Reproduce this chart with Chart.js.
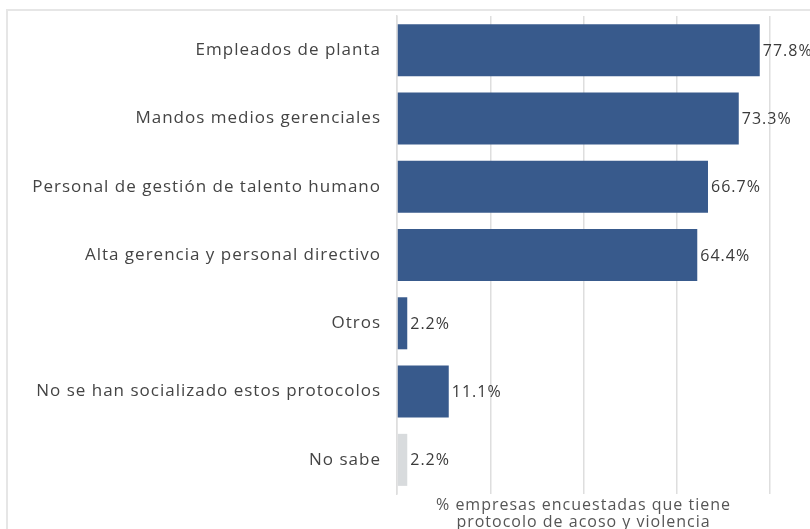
<!DOCTYPE html>
<html>
<head>
<meta charset="utf-8">
<script src="https://cdn.jsdelivr.net/npm/chart.js@4.4.1/dist/chart.umd.min.js"></script>
<style>
  html, body { margin: 0; padding: 0; background: #fff; overflow: hidden; }
  #wrap { position: relative; width: 810px; height: 529px; overflow: hidden; }
  .frame-top { position: absolute; left: 7px; top: 9px; width: 820px; height: 0; border-top: 2px solid #e6e6e6; }
  .frame-left { position: absolute; left: 6px; top: 9px; width: 0; height: 540px; border-left: 2px solid #e6e6e6; }
  canvas { position: absolute; left: 0; top: 0; }
</style>
</head>
<body>
<div id="wrap">
  <div class="frame-top"></div>
  <div class="frame-left"></div>
  <canvas id="c" width="810" height="540" style="width:810px;height:540px"></canvas>
</div>
<script>
// Audiences that have been informed of the harassment & violence protocol
const categories = [
  'Empleados de planta',
  'Mandos medios gerenciales',
  'Personal de gestión de talento humano',
  'Alta gerencia y personal directivo',
  'Otros',
  'No se han socializado estos protocolos',
  'No sabe'
];
const values = [77.8, 73.3, 66.7, 64.4, 2.2, 11.1, 2.2];
const barColors = ['#385a8c', '#385a8c', '#385a8c', '#385a8c', '#385a8c', '#385a8c', '#d8dbdd'];
const axisTitle = ['% empresas encuestadas que tiene', 'protocolo de acoso y violencia'];

const FONT = '"Open Sans", sans-serif';

// Wider tracking for every text drawn on the canvas
const tracking = {
  id: 'tracking',
  beforeDraw(chart) { chart.ctx.letterSpacing = '1px'; }
};

// Writes each bar's value just past its end
const valueLabels = {
  id: 'valueLabels',
  afterDatasetsDraw(chart) {
    const ctx = chart.ctx;
    const meta = chart.getDatasetMeta(0);
    ctx.save();
    ctx.letterSpacing = '1px';
    ctx.font = '16px ' + FONT;
    ctx.fillStyle = '#3a3a3a';
    ctx.textAlign = 'left';
    ctx.textBaseline = 'middle';
    meta.data.forEach((bar, i) => {
      const v = chart.data.datasets[0].data[i];
      ctx.fillText(v.toFixed(1) + '%', bar.x + 3, bar.y + 1);
    });
    ctx.restore();
  }
};

new Chart(document.getElementById('c'), {
  type: 'bar',
  data: {
    labels: categories,
    datasets: [{
      data: values,
      backgroundColor: barColors,
      borderWidth: 0,
      barPercentage: 0.762,
      categoryPercentage: 1.0
    }]
  },
  options: {
    indexAxis: 'y',
    responsive: false,
    animation: false,
    devicePixelRatio: 1,
    layout: { padding: { top: 16, right: 40, left: 0, bottom: 0 } },
    plugins: {
      legend: { display: false },
      tooltip: { enabled: false }
    },
    scales: {
      x: {
        min: 0,
        max: 80,
        ticks: { display: false, stepSize: 20 },
        grid: { color: '#dedede', lineWidth: 1.5, drawTicks: false },
        border: { display: false },
        title: {
          display: true,
          text: axisTitle,
          color: '#555',
          font: { family: FONT, size: 16, lineHeight: 1.05 },
          padding: { top: 0, bottom: 9 }
        },
        afterFit(scale) { scale.height = 46; }
      },
      y: {
        ticks: {
          color: '#444',
          font: { family: FONT, size: 17 },
          padding: 16
        },
        grid: { display: false, drawTicks: false },
        border: { display: true, color: '#dedede', width: 1.5 },
        afterFit(scale) {
          scale.width = 397;
          scale.paddingTop = 0;
          scale.paddingBottom = 0;
        }
      }
    }
  },
  plugins: [tracking, valueLabels]
});
</script>
</body>
</html>
